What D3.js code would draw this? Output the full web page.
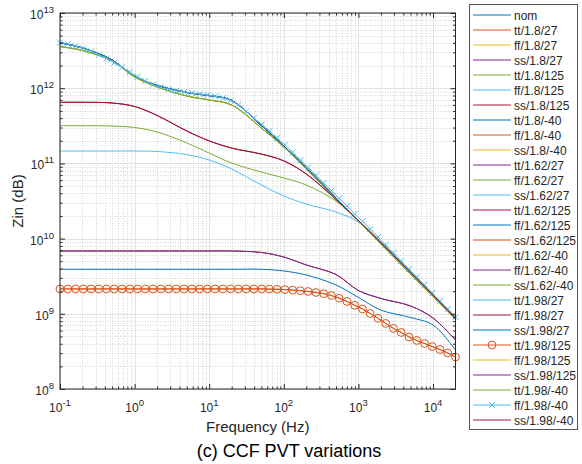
<!DOCTYPE html>
<html>
<head>
<meta charset="utf-8">
<script src="https://cdn.jsdelivr.net/npm/d3@7"></script>
<style>
    body { margin: 0; background: #ffffff; }
    svg { display: block; }
    text { font-family: "Liberation Sans", Arial, sans-serif; fill: #262626; }
</style>
</head>
<body>
<svg id="chart"></svg>
<script>

// Sample frequencies (Hz) for the plain curves
var freqs = [0.1, 0.2, 0.5, 1, 2, 5, 10, 20, 50, 100, 200, 500, 1000, 2000, 5000, 10000, 20000];

// Denser sweep used by the two marked series
var freqsDense = [0.1, 0.127, 0.1614, 0.205, 0.2604, 0.3309, 0.4203, 0.5339, 0.6783, 0.8617,
    1.095, 1.391, 1.767, 2.245, 2.852, 3.623, 4.603, 5.848, 7.429, 9.439,
    11.99, 15.23, 19.35, 24.58, 31.23, 39.67, 50.4, 64.03, 81.34, 103.3,
    131.3, 166.8, 211.9, 269.2, 342, 434.4, 551.9, 701.1, 890.6, 1131,
    1438, 1826, 2320, 2948, 3745, 4757, 6043, 7677, 9755, 12390,
    15740, 20000];

// Zin curves
var zTop = [4.03e12, 3.42e12, 2.37e12, 1.43e12, 1.09e12, 8.77e11, 8.00e11, 6.86e11, 3.19e11, 1.70e11,
    8.69e10, 3.47e10, 1.74e10, 8.74e9, 3.49e9, 1.75e9, 8.79e8];
var zTopLo = [3.58e12, 3.17e12, 2.30e12, 1.41e12, 1.04e12, 7.88e11, 6.97e11, 5.98e11, 2.96e11, 1.65e11,
    8.42e10, 3.36e10, 1.69e10, 8.48e9, 3.38e9, 1.70e9, 8.53e8];
var zMidDarkRed = [6.49e11, 6.49e11, 6.36e11, 5.71e11, 4.34e11, 2.70e11, 1.99e11, 1.60e11, 1.33e11, 1.08e11,
    7.23e10, 3.31e10, 1.74e10, 8.87e9, 3.54e9, 1.78e9, 8.66e8];
var zMidOlive = [3.17e11, 3.17e11, 3.14e11, 3.00e11, 2.62e11, 1.87e11, 1.37e11, 1.01e11, 7.68e10, 6.39e10,
    5.16e10, 3.16e10, 1.71e10, 8.74e9, 3.49e9, 1.75e9, 8.53e8];
var zMidLightBlue = [1.46e11, 1.46e11, 1.46e11, 1.46e11, 1.44e11, 1.31e11, 1.11e11, 8.42e10, 5.16e10, 3.69e10,
    2.88e10, 2.26e10, 1.66e10, 9.01e9, 3.65e9, 1.78e9, 8.66e8];
var zLowMauve = [6.84e9, 6.84e9, 6.84e9, 6.84e9, 6.84e9, 6.84e9, 6.84e9, 6.84e9, 6.54e9, 5.69e9,
    4.46e9, 3.33e9, 2.04e9, 1.60e9, 1.27e9, 8.79e8, 4.48e8];
var zLowBlue = [3.91e9, 3.91e9, 3.91e9, 3.91e9, 3.91e9, 3.91e9, 3.91e9, 3.91e9, 3.91e9, 3.71e9,
    3.28e9, 2.42e9, 1.65e9, 1.12e9, 8.93e8, 7.10e8, 3.30e8];

var zTopHi = [4.03e12, 3.84e12, 3.62e12, 3.37e12, 3.10e12, 2.79e12, 2.48e12, 2.18e12, 1.90e12, 1.64e12,
    1.42e12, 1.25e12, 1.12e12, 1.03e12, 9.67e11, 9.24e11, 8.90e11, 8.64e11, 8.38e11, 8.12e11,
    7.80e11, 7.41e11, 6.86e11, 5.98e11, 4.90e11, 4.02e11, 3.29e11, 2.70e11, 2.18e11, 1.76e11,
    1.40e11, 1.11e11, 8.77e10, 6.95e10, 5.49e10, 4.34e10, 3.43e10, 2.71e10, 2.14e10, 1.70e10,
    1.34e10, 1.05e10, 8.22e9, 6.44e9, 5.04e9, 3.94e9, 3.09e9, 2.42e9, 1.89e9, 1.48e9,
    1.16e9, 9.07e8];
var zLowOrange = [2.14e9, 2.14e9, 2.14e9, 2.14e9, 2.14e9, 2.14e9, 2.14e9, 2.14e9, 2.14e9, 2.14e9,
    2.14e9, 2.14e9, 2.14e9, 2.14e9, 2.14e9, 2.14e9, 2.14e9, 2.14e9, 2.14e9, 2.14e9,
    2.14e9, 2.14e9, 2.14e9, 2.14e9, 2.14e9, 2.14e9, 2.14e9, 2.13e9, 2.12e9, 2.10e9,
    2.07e9, 2.03e9, 1.98e9, 1.92e9, 1.85e9, 1.75e9, 1.61e9, 1.46e9, 1.30e9, 1.16e9,
    1.01e9, 8.70e8, 7.45e8, 6.40e8, 5.65e8, 4.92e8, 4.42e8, 4.03e8, 3.67e8, 3.35e8,
    3.01e8, 2.66e8];

// Legend order, and which curve each corner follows
var seriesNames = ["nom", "tt/1.8/27", "ff/1.8/27", "ss/1.8/27", "tt/1.8/125", "ff/1.8/125", "ss/1.8/125",
    "tt/1.8/-40", "ff/1.8/-40", "ss/1.8/-40", "tt/1.62/27", "ff/1.62/27", "ss/1.62/27", "tt/1.62/125",
    "ff/1.62/125", "ss/1.62/125", "tt/1.62/-40", "ff/1.62/-40", "ss/1.62/-40", "tt/1.98/27", "ff/1.98/27",
    "ss/1.98/27", "tt/1.98/125", "ff/1.98/125", "ss/1.98/125", "tt/1.98/-40", "ff/1.98/-40", "ss/1.98/-40"];
var seriesCurve = ["top", "top", "top", "top", "midOlive", "midLightBlue", "midDarkRed",
    "top", "top", "top", "top", "topLo", "top", "lowMauve",
    "lowBlue", "lowOrange", "top", "top", "topLo", "top", "top",
    "top", "lowOrange", "topLo", "lowMauve", "topLo", "topHi", "midDarkRed"];
var seriesMarker = {"tt/1.98/125": "o", "ff/1.98/-40": "x"};

var xTickValues = [0.1, 1, 10, 100, 1000, 10000];
var xTickExponents = ["-1", "0", "1", "2", "3", "4"];
var yTickValues = [1e8, 1e9, 1e10, 1e11, 1e12, 1e13];
var yTickExponents = ["8", "9", "10", "11", "12", "13"];

var matlabColors = ["#0072BD", "#D95319", "#EDB120", "#7E2F8E", "#77AC30", "#4DBEEE", "#A2142F"];

var curves = {
    top: { f: freqs, z: zTop },
    topLo: { f: freqs, z: zTopLo },
    topHi: { f: freqsDense, z: zTopHi },
    midDarkRed: { f: freqs, z: zMidDarkRed },
    midOlive: { f: freqs, z: zMidOlive },
    midLightBlue: { f: freqs, z: zMidLightBlue },
    lowMauve: { f: freqs, z: zLowMauve },
    lowBlue: { f: freqs, z: zLowBlue },
    lowOrange: { f: freqsDense, z: zLowOrange }
};

var options = {
    width: 582,
    height: 464,
    left: 60,
    right: 455.5,
    top: 13,
    bottom: 389,
    legendX: 469,
    legendY: 4,
    legendW: 108,
    legendH: 425,
    legendStartY: 15,
    legendSpacing: 15
};

function minorTicks(lo, hi)
{
    var out = [];
    var d0 = Math.floor(Math.log10(lo));
    var d1 = Math.ceil(Math.log10(hi));
    for (var d = d0; d <= d1; d++)
    {
        for (var m = 2; m <= 9; m++)
        {
            var v = m * Math.pow(10, d);
            if (v > lo && v < hi) out.push(v);
        }
    }
    return out;
}

function drawMarker(g, kind, cx, cy, color)
{
    if (kind == "o")
    {
        g.append("circle")
            .attr("cx", cx).attr("cy", cy).attr("r", 3.9)
            .attr("fill", "none")
            .attr("stroke", color)
            .attr("stroke-width", 1);
    }
    else if (kind == "x")
    {
        var s = 3;
        g.append("path")
            .attr("d", "M" + (cx - s) + "," + (cy - s) + "L" + (cx + s) + "," + (cy + s) +
                "M" + (cx - s) + "," + (cy + s) + "L" + (cx + s) + "," + (cy - s))
            .attr("stroke", color)
            .attr("stroke-width", 1)
            .attr("fill", "none");
    }
}

function draw(options)
{
    var svg = d3.select("#chart")
        .attr("width", options.width)
        .attr("height", options.height);

    var x = d3.scaleLog().domain([0.1, 2e4]).range([options.left, options.right]);
    var y = d3.scaleLog().domain([1e8, 1e13]).range([options.bottom, options.top]);

    var xMinor = minorTicks(0.1, 2e4);
    var yMinor = minorTicks(1e8, 1e13);

    var plotW = options.right - options.left;
    var plotH = options.bottom - options.top;

    // Grid: dotted minor, solid major
    var grid = svg.append("g");
    xMinor.forEach(function (v)
    {
        grid.append("line")
            .attr("x1", Math.round(x(v)) + 0.5).attr("x2", Math.round(x(v)) + 0.5)
            .attr("y1", options.top).attr("y2", options.bottom)
            .attr("stroke", "#d4d4d4").attr("stroke-dasharray", "1,1.5");
    });
    yMinor.forEach(function (v)
    {
        grid.append("line")
            .attr("y1", Math.round(y(v)) + 0.5).attr("y2", Math.round(y(v)) + 0.5)
            .attr("x1", options.left).attr("x2", options.right)
            .attr("stroke", "#d4d4d4").attr("stroke-dasharray", "1,1.5");
    });
    xTickValues.forEach(function (v)
    {
        grid.append("line")
            .attr("x1", Math.round(x(v)) + 0.5).attr("x2", Math.round(x(v)) + 0.5)
            .attr("y1", options.top).attr("y2", options.bottom)
            .attr("stroke", "#e2e2e2");
    });
    yTickValues.forEach(function (v)
    {
        grid.append("line")
            .attr("y1", Math.round(y(v)) + 0.5).attr("y2", Math.round(y(v)) + 0.5)
            .attr("x1", options.left).attr("x2", options.right)
            .attr("stroke", "#e2e2e2");
    });

    // Curves
    svg.append("defs").append("clipPath").attr("id", "plotclip")
        .append("rect")
        .attr("x", options.left - 5).attr("y", options.top - 5)
        .attr("width", plotW + 10).attr("height", plotH + 10);

    var plot = svg.append("g").attr("clip-path", "url(#plotclip)");

    var line = d3.line()
        .x(function (d) { return x(d.f); })
        .y(function (d) { return y(d.z); })
        .curve(d3.curveCatmullRom.alpha(0.5));

    for (var i = 0; i < seriesNames.length; i++)
    {
        var name = seriesNames[i];
        var curve = curves[seriesCurve[i]];
        var color = matlabColors[i % matlabColors.length];
        var points = curve.f.map(function (f, k) { return { f: f, z: curve.z[k] }; });

        plot.append("path")
            .datum(points)
            .attr("d", line)
            .attr("fill", "none")
            .attr("stroke", color)
            .attr("stroke-width", 1);

        var marker = seriesMarker[name];
        if (marker)
        {
            points.forEach(function (p)
            {
                drawMarker(plot, marker, x(p.f), y(p.z), color);
            });
        }
    }

    // Axis ticks on all four sides, pointing in
    var axisColor = "#262626";
    var tickG = svg.append("g");
    function addTicks(axis, transform)
    {
        var g = tickG.append("g").attr("transform", transform).call(axis);
        g.select(".domain").remove();
        g.selectAll("text").remove();
        g.selectAll("line").attr("stroke", axisColor);
    }
    addTicks(d3.axisBottom(x).tickValues(xTickValues).tickSize(-5), "translate(0," + options.bottom + ")");
    addTicks(d3.axisBottom(x).tickValues(xMinor).tickSize(-2.5), "translate(0," + options.bottom + ")");
    addTicks(d3.axisTop(x).tickValues(xTickValues).tickSize(-5), "translate(0," + options.top + ")");
    addTicks(d3.axisTop(x).tickValues(xMinor).tickSize(-2.5), "translate(0," + options.top + ")");
    addTicks(d3.axisLeft(y).tickValues(yTickValues).tickSize(-5), "translate(" + options.left + ",0)");
    addTicks(d3.axisLeft(y).tickValues(yMinor).tickSize(-2.5), "translate(" + options.left + ",0)");
    addTicks(d3.axisRight(y).tickValues(yTickValues).tickSize(-5), "translate(" + options.right + ",0)");
    addTicks(d3.axisRight(y).tickValues(yMinor).tickSize(-2.5), "translate(" + options.right + ",0)");

    // Box
    svg.append("rect")
        .attr("x", options.left).attr("y", options.top)
        .attr("width", plotW).attr("height", plotH)
        .attr("fill", "none")
        .attr("stroke", axisColor)
        .attr("stroke-width", 1);

    // Tick labels as 10^n
    xTickValues.forEach(function (v, k)
    {
        var t = svg.append("text")
            .attr("x", x(v))
            .attr("y", options.bottom + 23)
            .attr("text-anchor", "middle")
            .style("font-size", "12px");
        t.append("tspan").text("10");
        t.append("tspan").attr("dy", -6).style("font-size", "9.5px").text(xTickExponents[k]);
    });

    yTickValues.forEach(function (v, k)
    {
        var t = svg.append("text")
            .attr("x", options.left - 6)
            .attr("y", y(v) + 6)
            .attr("text-anchor", "end")
            .style("font-size", "12px");
        t.append("tspan").text("10");
        t.append("tspan").attr("dy", -6).style("font-size", "9.5px").text(yTickExponents[k]);
    });

    // Axis labels
    svg.append("text")
        .attr("x", (options.left + options.right) / 2)
        .attr("y", 432)
        .attr("text-anchor", "middle")
        .style("font-size", "15px")
        .text("Frequency (Hz)");

    svg.append("text")
        .attr("transform", "translate(23," + ((options.top + options.bottom) / 2) + ") rotate(-90)")
        .attr("text-anchor", "middle")
        .style("font-size", "15px")
        .text("Zin (dB)");

    svg.append("text")
        .attr("x", 289)
        .attr("y", 457)
        .attr("text-anchor", "middle")
        .style("font-size", "18px")
        .style("fill", "#000")
        .text("(c) CCF PVT variations");

    // Legend
    var legend = svg.append("g");
    legend.append("rect")
        .attr("x", options.legendX + 0.5).attr("y", options.legendY + 0.5)
        .attr("width", options.legendW).attr("height", options.legendH)
        .attr("fill", "#ffffff")
        .attr("stroke", "#555555")
        .attr("stroke-width", 1);

    for (var j = 0; j < seriesNames.length; j++)
    {
        var ly = options.legendStartY + j * options.legendSpacing;
        var col = matlabColors[j % matlabColors.length];

        legend.append("line")
            .attr("x1", 473).attr("x2", 511)
            .attr("y1", ly).attr("y2", ly)
            .attr("stroke", col)
            .attr("stroke-width", 1);

        if (seriesMarker[seriesNames[j]])
            drawMarker(legend, seriesMarker[seriesNames[j]], 492, ly, col);

        legend.append("text")
            .attr("x", 514)
            .attr("y", ly + 4.5)
            .style("font-size", "12px")
            .text(seriesNames[j]);
    }
}

draw(options);

</script>
</body>
</html>
